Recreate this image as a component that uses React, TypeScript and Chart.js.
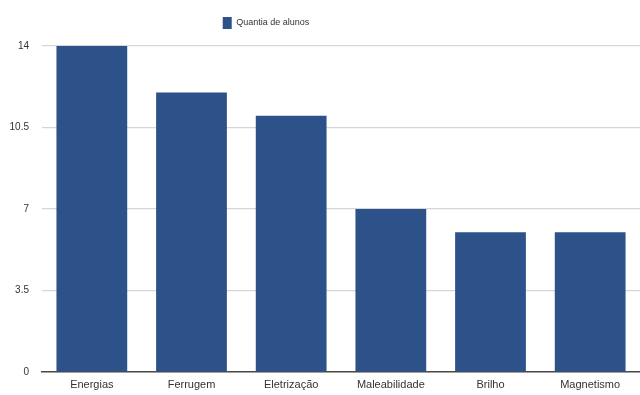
import React, { useEffect, useRef } from "react";
import { Chart, registerables } from "chart.js";

Chart.register(...registerables);

const categories = ["Energias", "Ferrugem", "Eletrização", "Maleabilidade", "Brilho", "Magnetismo"];
const seriesLabel = "Quantia de alunos";
const values = [14, 12, 11, 7, 6, 6];
const yTicks = [0, 3.5, 7, 10.5, 14];

const FONT = "'Liberation Sans', Arial, sans-serif";
const BAR = "#2d5189";

export default function App() {
  const ref = useRef<HTMLCanvasElement | null>(null);

  useEffect(() => {
    if (!ref.current) return;
    const shiftLegend = {
      id: "shiftLegend",
      afterLayout(chart: any) {
        const lg = chart.legend;
        if (lg) {
          lg.left -= 54;
          lg.right -= 54;
          lg.top -= 7;
          lg.bottom -= 7;
        }
      },
    };
    const chart = new Chart(ref.current, {
      type: "bar",
      data: {
        labels: categories,
        datasets: [
          {
            label: seriesLabel,
            data: values,
            backgroundColor: BAR,
            borderWidth: 0,
            categoryPercentage: 1,
            barPercentage: 0.71,
          },
        ],
      },
      plugins: [shiftLegend],
      options: {
        animation: false,
        responsive: false,
        layout: { padding: { top: 0, left: 0, right: 0, bottom: 0 } },
        plugins: {
          tooltip: { enabled: false },
          legend: {
            display: true,
            position: "top",
            align: "center",
            labels: {
              boxWidth: 9,
              boxHeight: 12,
              padding: 10,
              color: "#333",
              font: { family: FONT, size: 9 },
            },
          },
        },
        scales: {
          x: {
            grid: { display: false, drawTicks: false },
            border: { display: true, color: "#4a4a4a", width: 1.5 },
            ticks: {
              color: "#333",
              padding: 6,
              font: { family: FONT, size: 11 },
              maxRotation: 0,
            },
            afterFit(scale: any) {
              scale.height = 23;
            },
          },
          y: {
            min: 0,
            max: 14,
            afterBuildTicks(scale: any) {
              scale.ticks = yTicks.map((v) => ({ value: v }));
            },
            grid: { color: "#d6d6d6", lineWidth: 1.2, drawTicks: false },
            border: { display: false },
            ticks: {
              color: "#333",
              padding: 13,
              font: { family: FONT, size: 10 },
              callback: (v: any) => String(v),
            },
            afterFit(scale: any) {
              scale.width = 42;
              scale.paddingTop = 46;
            },
          },
        },
      },
    });
    return () => chart.destroy();
  }, []);

  return (
    <div style={{ position: "fixed", left: 0, top: 0, width: 640, height: 395, background: "#fff" }}>
      <canvas ref={ref} width={640} height={395} />
    </div>
  );
}
